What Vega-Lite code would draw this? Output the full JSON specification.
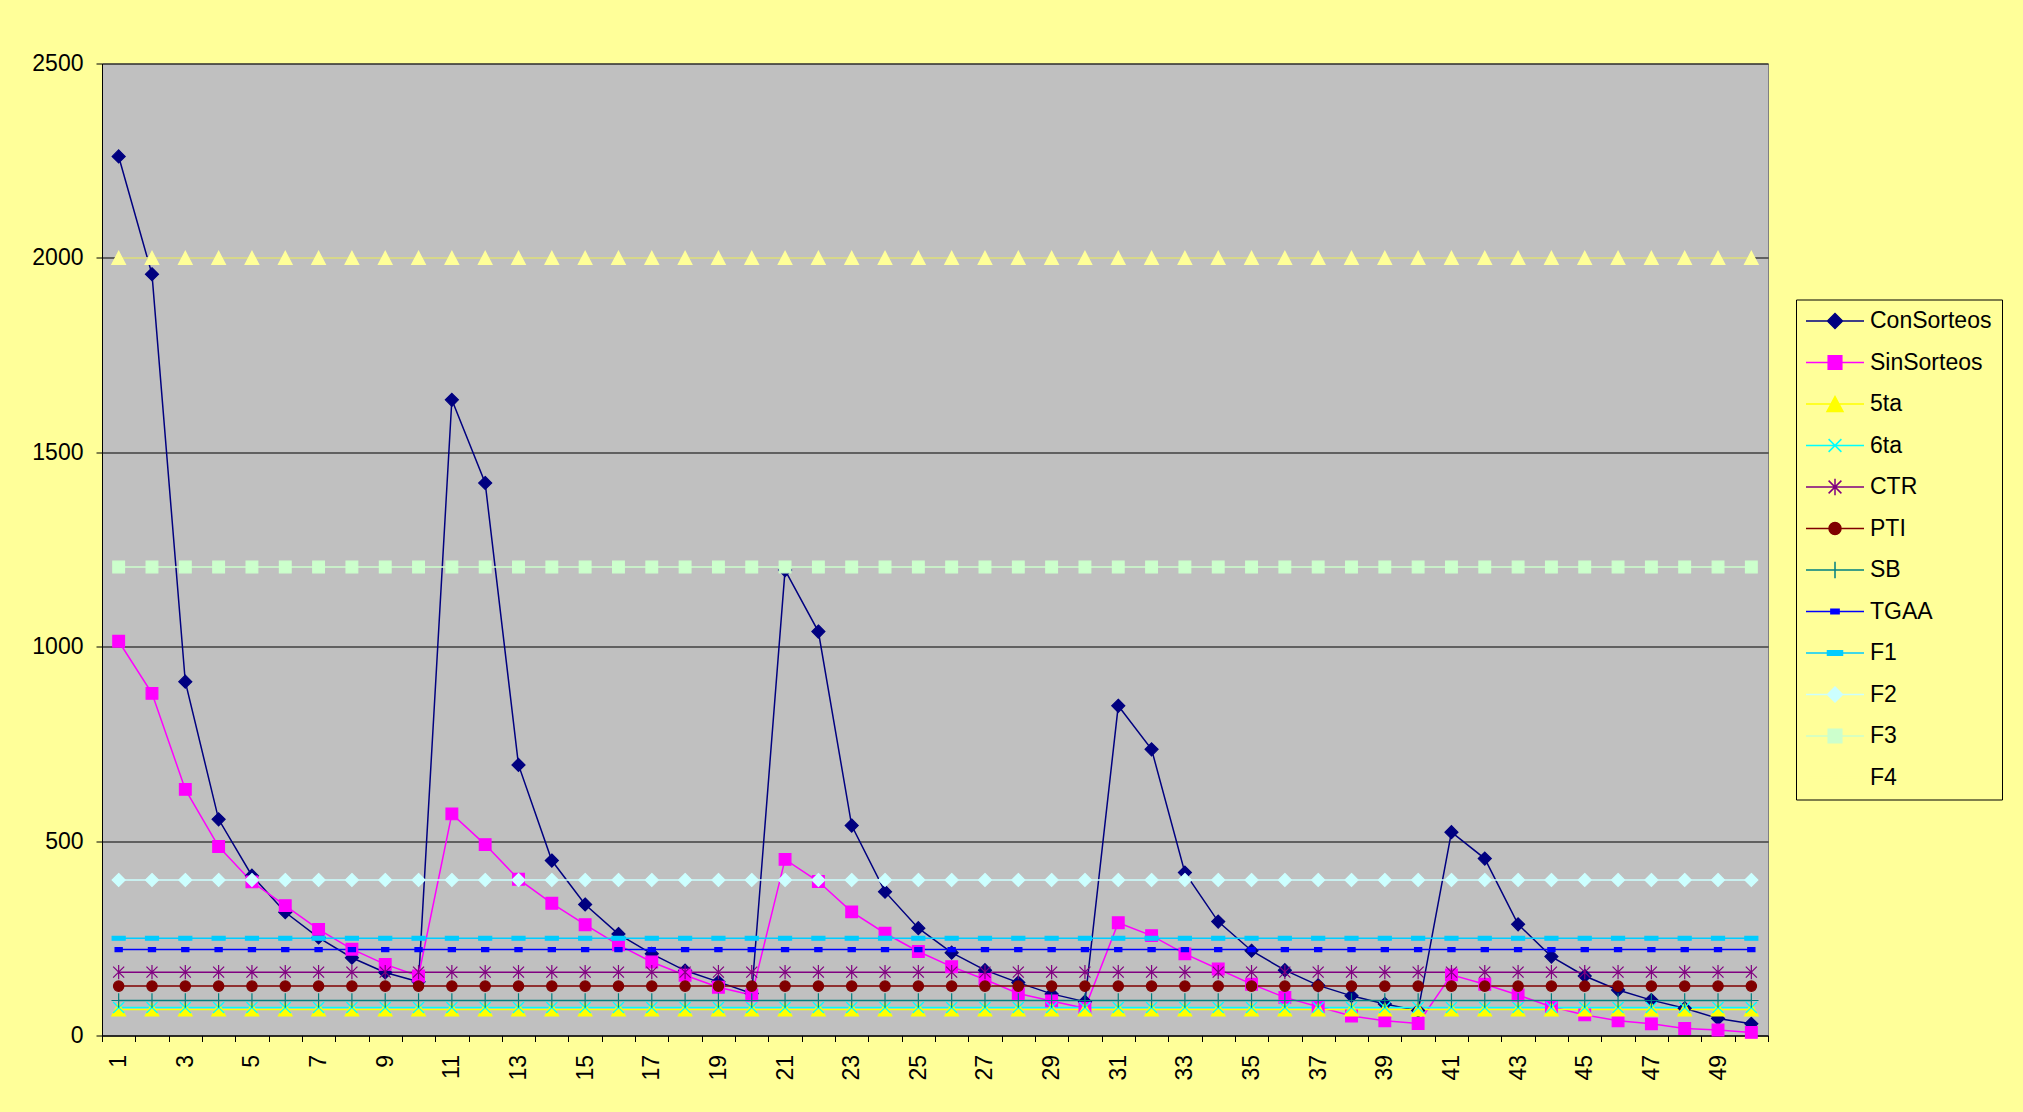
{
  "$schema": "https://vega.github.io/schema/vega-lite/v6.json",
  "width": 1666,
  "height": 972,
  "autosize": {"type": "none"},
  "padding": {"left": 102, "top": 63.5, "right": 255, "bottom": 76.5},
  "background": "#FFFF99",
  "config": {
    "view": {"fill": "#C0C0C0", "stroke": "#808080", "strokeWidth": 1},
    "font": "Liberation Sans"
  },
  "data": {
    "values": [
      {"x": 1, "ConSorteos": 2261, "SinSorteos": 1014, "5ta": 67, "6ta": 72, "CTR": 163, "PTI": 127, "SB": 90, "TGAA": 221, "F1": 250, "F2": 400, "F3": 1205, "F4": 2000},
      {"x": 2, "ConSorteos": 1958, "SinSorteos": 880, "5ta": 67, "6ta": 72, "CTR": 163, "PTI": 127, "SB": 90, "TGAA": 221, "F1": 250, "F2": 400, "F3": 1205, "F4": 2000},
      {"x": 3, "ConSorteos": 910, "SinSorteos": 633, "5ta": 67, "6ta": 72, "CTR": 163, "PTI": 127, "SB": 90, "TGAA": 221, "F1": 250, "F2": 400, "F3": 1205, "F4": 2000},
      {"x": 4, "ConSorteos": 556, "SinSorteos": 486, "5ta": 67, "6ta": 72, "CTR": 163, "PTI": 127, "SB": 90, "TGAA": 221, "F1": 250, "F2": 400, "F3": 1205, "F4": 2000},
      {"x": 5, "ConSorteos": 411, "SinSorteos": 395, "5ta": 67, "6ta": 72, "CTR": 163, "PTI": 127, "SB": 90, "TGAA": 221, "F1": 250, "F2": 400, "F3": 1205, "F4": 2000},
      {"x": 6, "ConSorteos": 317, "SinSorteos": 334, "5ta": 67, "6ta": 72, "CTR": 163, "PTI": 127, "SB": 90, "TGAA": 221, "F1": 250, "F2": 400, "F3": 1205, "F4": 2000},
      {"x": 7, "ConSorteos": 252, "SinSorteos": 273, "5ta": 67, "6ta": 72, "CTR": 163, "PTI": 127, "SB": 90, "TGAA": 221, "F1": 250, "F2": 400, "F3": 1205, "F4": 2000},
      {"x": 8, "ConSorteos": 200, "SinSorteos": 222, "5ta": 67, "6ta": 72, "CTR": 163, "PTI": 127, "SB": 90, "TGAA": 221, "F1": 250, "F2": 400, "F3": 1205, "F4": 2000},
      {"x": 9, "ConSorteos": 162, "SinSorteos": 183, "5ta": 67, "6ta": 72, "CTR": 163, "PTI": 127, "SB": 90, "TGAA": 221, "F1": 250, "F2": 400, "F3": 1205, "F4": 2000},
      {"x": 10, "ConSorteos": 138, "SinSorteos": 153, "5ta": 67, "6ta": 72, "CTR": 163, "PTI": 127, "SB": 90, "TGAA": 221, "F1": 250, "F2": 400, "F3": 1205, "F4": 2000},
      {"x": 11, "ConSorteos": 1635, "SinSorteos": 570, "5ta": 67, "6ta": 72, "CTR": 163, "PTI": 127, "SB": 90, "TGAA": 221, "F1": 250, "F2": 400, "F3": 1205, "F4": 2000},
      {"x": 12, "ConSorteos": 1421, "SinSorteos": 491, "5ta": 67, "6ta": 72, "CTR": 163, "PTI": 127, "SB": 90, "TGAA": 221, "F1": 250, "F2": 400, "F3": 1205, "F4": 2000},
      {"x": 13, "ConSorteos": 696, "SinSorteos": 402, "5ta": 67, "6ta": 72, "CTR": 163, "PTI": 127, "SB": 90, "TGAA": 221, "F1": 250, "F2": 400, "F3": 1205, "F4": 2000},
      {"x": 14, "ConSorteos": 450, "SinSorteos": 340, "5ta": 67, "6ta": 72, "CTR": 163, "PTI": 127, "SB": 90, "TGAA": 221, "F1": 250, "F2": 400, "F3": 1205, "F4": 2000},
      {"x": 15, "ConSorteos": 337, "SinSorteos": 285, "5ta": 67, "6ta": 72, "CTR": 163, "PTI": 127, "SB": 90, "TGAA": 221, "F1": 250, "F2": 400, "F3": 1205, "F4": 2000},
      {"x": 16, "ConSorteos": 261, "SinSorteos": 233, "5ta": 67, "6ta": 72, "CTR": 163, "PTI": 127, "SB": 90, "TGAA": 221, "F1": 250, "F2": 400, "F3": 1205, "F4": 2000},
      {"x": 17, "ConSorteos": 210, "SinSorteos": 189, "5ta": 67, "6ta": 72, "CTR": 163, "PTI": 127, "SB": 90, "TGAA": 221, "F1": 250, "F2": 400, "F3": 1205, "F4": 2000},
      {"x": 18, "ConSorteos": 167, "SinSorteos": 155, "5ta": 67, "6ta": 72, "CTR": 163, "PTI": 127, "SB": 90, "TGAA": 221, "F1": 250, "F2": 400, "F3": 1205, "F4": 2000},
      {"x": 19, "ConSorteos": 138, "SinSorteos": 124, "5ta": 67, "6ta": 72, "CTR": 163, "PTI": 127, "SB": 90, "TGAA": 221, "F1": 250, "F2": 400, "F3": 1205, "F4": 2000},
      {"x": 20, "ConSorteos": 108, "SinSorteos": 104, "5ta": 67, "6ta": 72, "CTR": 163, "PTI": 127, "SB": 90, "TGAA": 221, "F1": 250, "F2": 400, "F3": 1205, "F4": 2000},
      {"x": 21, "ConSorteos": 1197, "SinSorteos": 453, "5ta": 67, "6ta": 72, "CTR": 163, "PTI": 127, "SB": 90, "TGAA": 221, "F1": 250, "F2": 400, "F3": 1205, "F4": 2000},
      {"x": 22, "ConSorteos": 1039, "SinSorteos": 396, "5ta": 67, "6ta": 72, "CTR": 163, "PTI": 127, "SB": 90, "TGAA": 221, "F1": 250, "F2": 400, "F3": 1205, "F4": 2000},
      {"x": 23, "ConSorteos": 540, "SinSorteos": 318, "5ta": 67, "6ta": 72, "CTR": 163, "PTI": 127, "SB": 90, "TGAA": 221, "F1": 250, "F2": 400, "F3": 1205, "F4": 2000},
      {"x": 24, "ConSorteos": 370, "SinSorteos": 263, "5ta": 67, "6ta": 72, "CTR": 163, "PTI": 127, "SB": 90, "TGAA": 221, "F1": 250, "F2": 400, "F3": 1205, "F4": 2000},
      {"x": 25, "ConSorteos": 276, "SinSorteos": 216, "5ta": 67, "6ta": 72, "CTR": 163, "PTI": 127, "SB": 90, "TGAA": 221, "F1": 250, "F2": 400, "F3": 1205, "F4": 2000},
      {"x": 26, "ConSorteos": 213, "SinSorteos": 177, "5ta": 67, "6ta": 72, "CTR": 163, "PTI": 127, "SB": 90, "TGAA": 221, "F1": 250, "F2": 400, "F3": 1205, "F4": 2000},
      {"x": 27, "ConSorteos": 168, "SinSorteos": 144, "5ta": 67, "6ta": 72, "CTR": 163, "PTI": 127, "SB": 90, "TGAA": 221, "F1": 250, "F2": 400, "F3": 1205, "F4": 2000},
      {"x": 28, "ConSorteos": 136, "SinSorteos": 108, "5ta": 67, "6ta": 72, "CTR": 163, "PTI": 127, "SB": 90, "TGAA": 221, "F1": 250, "F2": 400, "F3": 1205, "F4": 2000},
      {"x": 29, "ConSorteos": 107, "SinSorteos": 89, "5ta": 67, "6ta": 72, "CTR": 163, "PTI": 127, "SB": 90, "TGAA": 221, "F1": 250, "F2": 400, "F3": 1205, "F4": 2000},
      {"x": 30, "ConSorteos": 87, "SinSorteos": 70, "5ta": 67, "6ta": 72, "CTR": 163, "PTI": 127, "SB": 90, "TGAA": 221, "F1": 250, "F2": 400, "F3": 1205, "F4": 2000},
      {"x": 31, "ConSorteos": 848, "SinSorteos": 290, "5ta": 67, "6ta": 72, "CTR": 163, "PTI": 127, "SB": 90, "TGAA": 221, "F1": 250, "F2": 400, "F3": 1205, "F4": 2000},
      {"x": 32, "ConSorteos": 736, "SinSorteos": 257, "5ta": 67, "6ta": 72, "CTR": 163, "PTI": 127, "SB": 90, "TGAA": 221, "F1": 250, "F2": 400, "F3": 1205, "F4": 2000},
      {"x": 33, "ConSorteos": 419, "SinSorteos": 210, "5ta": 67, "6ta": 72, "CTR": 163, "PTI": 127, "SB": 90, "TGAA": 221, "F1": 250, "F2": 400, "F3": 1205, "F4": 2000},
      {"x": 34, "ConSorteos": 293, "SinSorteos": 171, "5ta": 67, "6ta": 72, "CTR": 163, "PTI": 127, "SB": 90, "TGAA": 221, "F1": 250, "F2": 400, "F3": 1205, "F4": 2000},
      {"x": 35, "ConSorteos": 218, "SinSorteos": 132, "5ta": 67, "6ta": 72, "CTR": 163, "PTI": 127, "SB": 90, "TGAA": 221, "F1": 250, "F2": 400, "F3": 1205, "F4": 2000},
      {"x": 36, "ConSorteos": 168, "SinSorteos": 98, "5ta": 67, "6ta": 72, "CTR": 163, "PTI": 127, "SB": 90, "TGAA": 221, "F1": 250, "F2": 400, "F3": 1205, "F4": 2000},
      {"x": 37, "ConSorteos": 129, "SinSorteos": 74, "5ta": 67, "6ta": 72, "CTR": 163, "PTI": 127, "SB": 90, "TGAA": 221, "F1": 250, "F2": 400, "F3": 1205, "F4": 2000},
      {"x": 38, "ConSorteos": 102, "SinSorteos": 50, "5ta": 67, "6ta": 72, "CTR": 163, "PTI": 127, "SB": 90, "TGAA": 221, "F1": 250, "F2": 400, "F3": 1205, "F4": 2000},
      {"x": 39, "ConSorteos": 81, "SinSorteos": 38, "5ta": 67, "6ta": 72, "CTR": 163, "PTI": 127, "SB": 90, "TGAA": 221, "F1": 250, "F2": 400, "F3": 1205, "F4": 2000},
      {"x": 40, "ConSorteos": 64, "SinSorteos": 31, "5ta": 67, "6ta": 72, "CTR": 163, "PTI": 127, "SB": 90, "TGAA": 221, "F1": 250, "F2": 400, "F3": 1205, "F4": 2000},
      {"x": 41, "ConSorteos": 523, "SinSorteos": 156, "5ta": 67, "6ta": 72, "CTR": 163, "PTI": 127, "SB": 90, "TGAA": 221, "F1": 250, "F2": 400, "F3": 1205, "F4": 2000},
      {"x": 42, "ConSorteos": 455, "SinSorteos": 132, "5ta": 67, "6ta": 72, "CTR": 163, "PTI": 127, "SB": 90, "TGAA": 221, "F1": 250, "F2": 400, "F3": 1205, "F4": 2000},
      {"x": 43, "ConSorteos": 286, "SinSorteos": 104, "5ta": 67, "6ta": 72, "CTR": 163, "PTI": 127, "SB": 90, "TGAA": 221, "F1": 250, "F2": 400, "F3": 1205, "F4": 2000},
      {"x": 44, "ConSorteos": 203, "SinSorteos": 74, "5ta": 67, "6ta": 72, "CTR": 163, "PTI": 127, "SB": 90, "TGAA": 221, "F1": 250, "F2": 400, "F3": 1205, "F4": 2000},
      {"x": 45, "ConSorteos": 153, "SinSorteos": 53, "5ta": 67, "6ta": 72, "CTR": 163, "PTI": 127, "SB": 90, "TGAA": 221, "F1": 250, "F2": 400, "F3": 1205, "F4": 2000},
      {"x": 46, "ConSorteos": 117, "SinSorteos": 38, "5ta": 67, "6ta": 72, "CTR": 163, "PTI": 127, "SB": 90, "TGAA": 221, "F1": 250, "F2": 400, "F3": 1205, "F4": 2000},
      {"x": 47, "ConSorteos": 91, "SinSorteos": 30, "5ta": 67, "6ta": 72, "CTR": 163, "PTI": 127, "SB": 90, "TGAA": 221, "F1": 250, "F2": 400, "F3": 1205, "F4": 2000},
      {"x": 48, "ConSorteos": 70, "SinSorteos": 18, "5ta": 67, "6ta": 72, "CTR": 163, "PTI": 127, "SB": 90, "TGAA": 221, "F1": 250, "F2": 400, "F3": 1205, "F4": 2000},
      {"x": 49, "ConSorteos": 44, "SinSorteos": 14, "5ta": 67, "6ta": 72, "CTR": 163, "PTI": 127, "SB": 90, "TGAA": 221, "F1": 250, "F2": 400, "F3": 1205, "F4": 2000},
      {"x": 50, "ConSorteos": 30, "SinSorteos": 8, "5ta": 67, "6ta": 72, "CTR": 163, "PTI": 127, "SB": 90, "TGAA": 221, "F1": 250, "F2": 400, "F3": 1205, "F4": 2000}
    ]
  },
  "encoding": {
    "x": {
      "field": "x", "type": "ordinal",
      "scale": {"type": "band", "paddingInner": 0, "paddingOuter": 0},
      "axis": {
        "title": null, "labelAngle": -90, "labelFont": "Liberation Sans", "labelFontSize": 23, "labelColor": "#000000",
        "tickBand": "extent", "tickSize": 6, "tickColor": "#000000", "domainColor": "#000000", "labelPadding": 13,
        "labelOverlap": false, "labelBound": false, "grid": false,
        "labelExpr": "datum.value % 2 == 1 ? datum.label : ''"
      }
    },
    "y": {
      "field": "v", "type": "quantitative",
      "scale": {"domain": [0, 2500], "nice": false},
      "axis": {
        "title": null, "values": [0, 500, 1000, 1500, 2000, 2500], "format": "d", "grid": true, "gridColor": "#000000", "gridWidth": 1,
        "labelFont": "Liberation Sans", "labelFontSize": 23, "labelColor": "#000000",
        "tickSize": 6, "tickColor": "#000000", "domainColor": "#000000", "labelPadding": 13
      }
    }
  },
  "layer": [
    {
      "transform": [
        {"fold": ["ConSorteos", "SinSorteos", "5ta", "6ta", "CTR", "PTI", "SB", "TGAA", "F1", "F2", "F3", "F4"], "as": ["series", "v"]}
      ],
      "mark": {"type": "line", "strokeWidth": 1.5},
      "encoding": {
        "color": {
          "field": "series", "type": "nominal",
          "scale": {
            "domain": ["ConSorteos", "SinSorteos", "5ta", "6ta", "CTR", "PTI", "SB", "TGAA", "F1", "F2", "F3", "F4"],
            "range": ["#000080", "#FF00FF", "#FFFF00", "#00FFFF", "#800080", "#800000", "#008080", "#0000FF", "#00CCFF", "#CCFFFF", "#CCFFCC", "#FFFF99"]
          },
          "legend": {
            "title": null, "orient": "none", "legendX": 1694, "legendY": 236,
            "padding": 10, "strokeColor": "#000000", "fillColor": "#FFFF99",
            "labelFont": "Liberation Sans", "labelFontSize": 23, "labelColor": "#000000",
            "symbolSize": 400, "symbolStrokeWidth": 1.5, "symbolOffset": 17.5, "labelOffset": 23.5, "rowPadding": 17.5,
            "encode": {
              "symbols": {
                "update": {
                  "shape": {"signal": "datum.value==='ConSorteos'?'M-2.9,0L2.9,0M0,-0.75L0.75,0L0,0.75L-0.75,0Z':datum.value==='SinSorteos'?'M-2.9,0L2.9,0M-0.68,-0.68L0.68,-0.68L0.68,0.68L-0.68,0.68Z':datum.value==='5ta'?'M-2.9,0L2.9,0M0,-0.75L0.8,0.75L-0.8,0.75Z':datum.value==='6ta'?'M-2.9,0L2.9,0M-0.64,-0.64L0.64,0.64M-0.64,0.64L0.64,-0.64':datum.value==='CTR'?'M-2.9,0L2.9,0M-0.64,-0.64L0.64,0.64M-0.64,0.64L0.64,-0.64M0,-0.83L0,0.83':datum.value==='PTI'?'M-2.9,0L2.9,0M-0.6,0A0.6,0.6,0,1,0,0.6,0A0.6,0.6,0,1,0,-0.6,0Z':datum.value==='SB'?'M-2.9,0L2.9,0M0,-0.83L0,0.83':datum.value==='TGAA'?'M-2.9,0L2.9,0M-0.41,-0.23L0.41,-0.23L0.41,0.23L-0.41,0.23Z':datum.value==='F1'?'M-2.9,0L2.9,0M-0.75,-0.23L0.75,-0.23L0.75,0.23L-0.75,0.23Z':datum.value==='F2'?'M-2.9,0L2.9,0M0,-0.75L0.75,0L0,0.75L-0.75,0Z':datum.value==='F3'?'M-2.9,0L2.9,0M-0.68,-0.68L0.68,-0.68L0.68,0.68L-0.68,0.68Z':'M-2.9,0L2.9,0M0,-0.75L0.8,0.75L-0.8,0.75Z'"},
                  "fill": {"scale": "color", "field": "value"},
                  "stroke": {"scale": "color", "field": "value"},
                  "strokeWidth": {"value": 1.5},
                  "opacity": {"value": 1}
                }
              }
            }
          }
        }
      }
    },
    {
      "transform": [
        {"fold": ["ConSorteos", "SinSorteos", "5ta", "6ta", "CTR", "PTI", "SB", "TGAA", "F1", "F2", "F3", "F4"], "as": ["marker", "v"]}
      ],
      "mark": {"type": "point", "filled": true, "opacity": 1, "size": 169, "strokeWidth": 1.2},
      "encoding": {
        "color": {
          "field": "marker", "type": "nominal", "legend": null,
          "scale": {
            "domain": ["ConSorteos", "SinSorteos", "5ta", "6ta", "CTR", "PTI", "SB", "TGAA", "F1", "F2", "F3", "F4"],
            "range": ["#000080", "#FF00FF", "#FFFF00", "#00FFFF", "#800080", "#800000", "#008080", "#0000FF", "#00CCFF", "#CCFFFF", "#CCFFCC", "#FFFF99"]
          }
        },
        "stroke": {
          "field": "marker", "type": "nominal", "legend": null,
          "scale": {
            "domain": ["F4", "F3", "F2", "F1", "TGAA", "SB", "PTI", "CTR", "6ta", "5ta", "SinSorteos", "ConSorteos"],
            "range": ["#FFFF99", "#CCFFCC", "#CCFFFF", "#00CCFF", "#0000FF", "#008080", "#800000", "#800080", "#00FFFF", "#FFFF00", "#FF00FF", "#000080"]
          }
        },
        "shape": {
          "field": "marker", "type": "nominal", "legend": null,
          "scale": {
            "domain": ["F4", "F3", "F2", "F1", "TGAA", "SB", "PTI", "CTR", "6ta", "5ta", "SinSorteos", "ConSorteos"],
            "range": [
              "M0,-1L1.05,1L-1.05,1Z",
              "M-0.9,-0.9L0.9,-0.9L0.9,0.9L-0.9,0.9Z",
              "M0,-1L1,0L0,1L-1,0Z",
              "M-1,-0.3L1,-0.3L1,0.3L-1,0.3Z",
              "M-0.55,-0.3L0.55,-0.3L0.55,0.3L-0.55,0.3Z",
              "M-1.1,0L1.1,0M0,-1.1L0,1.1",
              "M-0.8,0A0.8,0.8,0,1,0,0.8,0A0.8,0.8,0,1,0,-0.8,0Z",
              "M-0.85,-0.85L0.85,0.85M-0.85,0.85L0.85,-0.85M0,-1.1L0,1.1",
              "M-0.85,-0.85L0.85,0.85M-0.85,0.85L0.85,-0.85",
              "M0,-1L1.05,1L-1.05,1Z",
              "M-0.9,-0.9L0.9,-0.9L0.9,0.9L-0.9,0.9Z",
              "M0,-1L1,0L0,1L-1,0Z"
            ]
          }
        }
      }
    }
  ]
}
